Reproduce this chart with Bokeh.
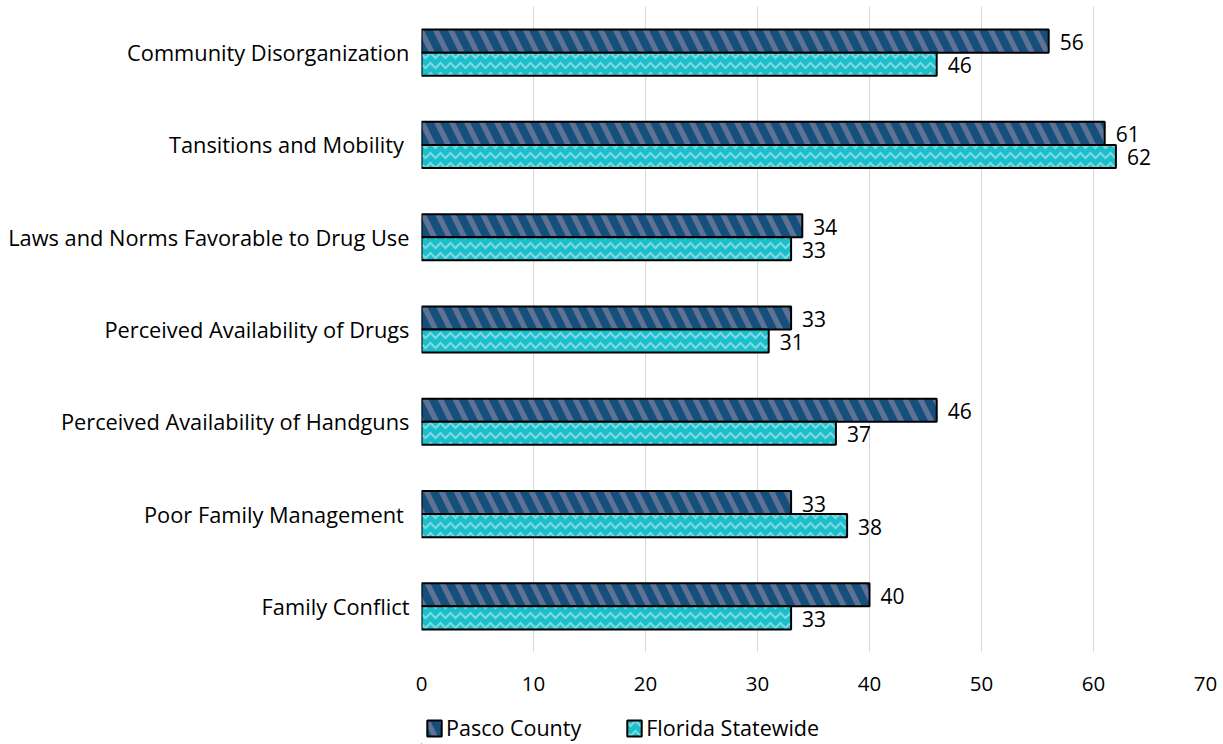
from bokeh.plotting import figure
from bokeh.models import ColumnDataSource, Range1d, FactorRange, Legend, LegendItem, LabelSet, FixedTicker
from bokeh.layouts import column
from bokeh.transform import dodge
from bokeh.core.properties import value
from bokeh.embed import file_html
from bokeh.resources import INLINE

categories = [
    "Community Disorganization",
    "Tansitions and Mobility ",
    "Laws and Norms Favorable to Drug Use",
    "Perceived Availability of Drugs",
    "Perceived Availability of Handguns",
    "Poor Family Management ",
    "Family Conflict",
]
pasco = [56, 61, 34, 33, 46, 33, 40]
florida = [46, 62, 33, 31, 37, 38, 33]
x_ticks = [0, 10, 20, 30, 40, 50, 60, 70]
series_names = ["Pasco County", "Florida Statewide"]

FONT = "Open Sans"

PASCO_STYLE = dict(fill_color="#5f7294", line_color="black", line_width=2,
                   hatch_pattern="left_diagonal_line", hatch_color="#15507c",
                   hatch_scale=30, hatch_weight=8)
FLORIDA_STYLE = dict(fill_color="#1bbfcc", line_color="black", line_width=2,
                     hatch_pattern="horizontal_wave", hatch_color="#80d9e0",
                     hatch_scale=10, hatch_weight=2)

src = ColumnDataSource(dict(
    cat=categories,
    pasco=pasco,
    florida=florida,
    pasco_lbl=[str(v) for v in pasco],
    florida_lbl=[str(v) for v in florida],
))

yr = FactorRange(factors=list(reversed(categories)), range_padding=0)

p = figure(width=1223, height=700, y_range=yr, x_range=Range1d(0, 70),
           output_backend="svg", toolbar_location=None,
           min_border_left=421, min_border_right=18, min_border_top=6, min_border_bottom=48)

r1 = p.hbar(y=dodge("cat", 0.125, range=p.y_range), right="pasco", left=0, height=0.25,
            source=src, **PASCO_STYLE)
r2 = p.hbar(y=dodge("cat", -0.125, range=p.y_range), right="florida", left=0, height=0.25,
            source=src, **FLORIDA_STYLE)

l1 = LabelSet(x="pasco", y=dodge("cat", 0.125, range=p.y_range), text="pasco_lbl", source=src,
              x_offset=11, y_offset=-1, text_baseline="middle", text_font=value(FONT),
              text_font_size="21px", text_color="black")
l2 = LabelSet(x="florida", y=dodge("cat", -0.125, range=p.y_range), text="florida_lbl", source=src,
              x_offset=11, y_offset=-1, text_baseline="middle", text_font=value(FONT),
              text_font_size="21px", text_color="black")
p.add_layout(l1)
p.add_layout(l2)

p.xaxis.ticker = FixedTicker(ticks=x_ticks)
p.xaxis.axis_line_color = None
p.xaxis.major_tick_line_color = None
p.xaxis.minor_tick_line_color = None
p.xaxis.major_label_text_font = FONT
p.xaxis.major_label_text_font_size = "20.5px"
p.xaxis.major_label_text_color = "black"
p.xaxis.major_label_standoff = 18

p.yaxis.axis_line_color = None
p.yaxis.major_tick_line_color = None
p.yaxis.minor_tick_line_color = None
p.yaxis.major_label_text_font = FONT
p.yaxis.major_label_text_font_size = "21.8px"
p.yaxis.major_label_text_color = "black"
p.yaxis.major_label_standoff = 6

p.xgrid.grid_line_color = "#d9d9d9"
p.xgrid.grid_line_width = 1
p.ygrid.grid_line_color = None
p.outline_line_color = None

# legend strip below the chart (proxy glyphs lie far outside its visible range)
lf = figure(width=1223, height=44, x_range=Range1d(0, 1), y_range=Range1d(0, 1),
            output_backend="svg", toolbar_location=None,
            min_border_left=0, min_border_right=0, min_border_top=0, min_border_bottom=0)
lf.axis.visible = False
lf.grid.visible = False
lf.outline_line_color = None
proxy = ColumnDataSource(dict(y=[-50], left=[-60], right=[-50]))
g1 = lf.hbar(y="y", right="right", left="left", height=0.1, source=proxy, **PASCO_STYLE)
g2 = lf.hbar(y="y", right="right", left="left", height=0.1, source=proxy, **FLORIDA_STYLE)

legend = Legend(items=[LegendItem(label=series_names[0], renderers=[g1]),
                       LegendItem(label=series_names[1], renderers=[g2])],
                orientation="horizontal", location=(4, 2),
                label_text_font=FONT, label_text_font_size="21.5px", label_text_color="black",
                glyph_width=18, glyph_height=20, label_standoff=3, spacing=44,
                border_line_color=None, background_fill_alpha=0,
                padding=2, margin=0)
lf.add_layout(legend, "center")

layout = column(p, lf, spacing=0)
open("out.html", "w").write(file_html(layout, INLINE))
